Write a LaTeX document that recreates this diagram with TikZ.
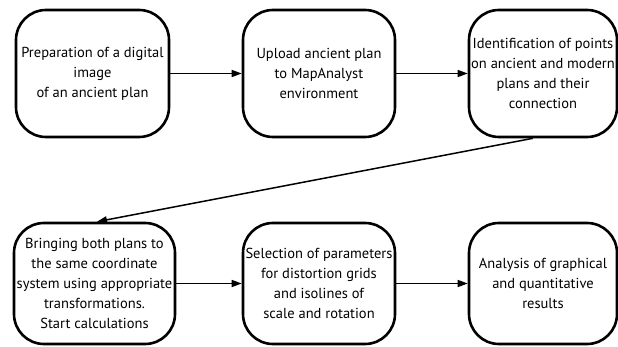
\documentclass[tikz,border=0pt]{standalone}
\usepackage{fontspec}
\setmainfont{PT Sans}
\usetikzlibrary{arrows.meta}
\begin{document}
\begin{tikzpicture}[x=1pt,y=-1pt,
  stepbox/.style={draw=black,line width=2.6pt,rounded corners=30pt,align=center,
    font=\fontsize{14.5}{20}\selectfont,inner sep=0pt,fill=white},
  conn/.style={line width=1.5pt,-{Triangle[length=10pt,width=7pt]}}]
\useasboundingbox[fill=white] (0,0) rectangle (618,347);
\node[stepbox,minimum width=153pt,minimum height=127pt] (b1) at (92.5,73.5)
  {Preparation of a digital\\image\\of an ancient plan};
\node[stepbox,minimum width=152pt,minimum height=127pt] (b2) at (319,73.5)
  {Upload ancient plan\\to MapAnalyst\\environment};
\node[stepbox,minimum width=148pt,minimum height=127pt] (b3) at (543,73.5)
  {Identification of points\\on ancient and modern\\plans and their\\connection};
\node[stepbox,minimum width=161pt,minimum height=121pt] (b4) at (94.5,283.5)
  {Bringing both plans to\\the same coordinate\\system using appropriate\\transformations.\\Start calculations};
\node[stepbox,minimum width=152pt,minimum height=121pt] (b5) at (319,283.5)
  {Selection of parameters\\for distortion grids\\and isolines of\\scale and rotation};
\node[stepbox,minimum width=148pt,minimum height=121pt] (b6) at (543,283.5)
  {Analysis of graphical\\and quantitative\\results};
\draw[conn] (b1) -- (b2);
\draw[conn] (b2) -- (b3);
\draw[conn] ([xshift=-10pt]b3.south) -- ([xshift=2.5pt]b4.north);
\draw[conn] (b4) -- (b5);
\draw[conn] (b5) -- (b6);
\end{tikzpicture}
\end{document}
